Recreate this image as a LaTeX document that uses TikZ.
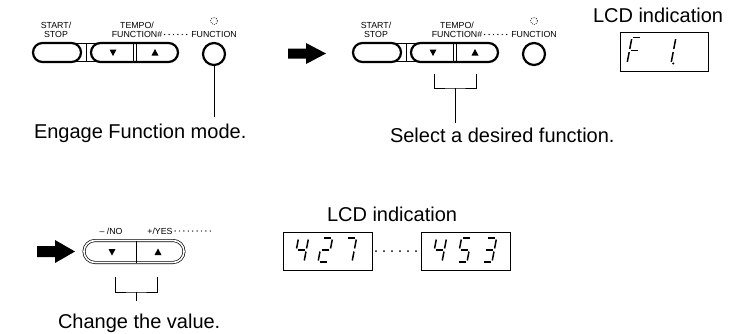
\documentclass[tikz,border=0pt]{standalone}
\usepackage{fontspec}
\setmainfont{Liberation Sans}
\usetikzlibrary{calc}
\newcommand{\SA}{\draw[segline] (1.5,-24)--(8.5,-24);}
\newcommand{\SB}{\draw[segline] (10,-22.5)--(10,-13.5);}
\newcommand{\SC}{\draw[segline] (10,-10.5)--(10,-1.5);}
\newcommand{\SD}{\draw[segline] (1.5,0)--(8.5,0);}
\newcommand{\SE}{\draw[segline] (0,-10.5)--(0,-1.5);}
\newcommand{\SF}{\draw[segline] (0,-22.5)--(0,-13.5);}
\newcommand{\SG}{\draw[segline] (1.5,-12)--(8.5,-12);}
\newcommand{\SP}{\fill (12.3,0) circle (1.1);}
\newcommand{\lcddig}[4]{\begin{scope}[shift={(#1,#2)},xslant=0.19,yscale=#3/24]#4\end{scope}}
\begin{document}
\begin{tikzpicture}[x=1pt,y=-1pt,
  small/.style={font=\fontsize{8.8}{9}\selectfont, inner sep=0, outer sep=0},
  big/.style={font=\fontsize{20}{22}\selectfont, inner sep=0, outer sep=0},
  btn/.style={draw, fill=white, line width=2.2pt, rectangle, rounded corners=9.5pt, minimum height=19pt, inner sep=0, outer sep=0},
  btnd/.style={draw, fill=white, line width=0.7pt, double=white, double distance=1.6pt, rectangle, rounded corners=11pt, minimum height=22pt, inner sep=0, outer sep=0},
  fnbtn/.style={draw, fill=white, circle, line width=2.2pt, minimum size=22pt, inner sep=0, outer sep=0},
  led/.style={draw, circle, line width=0.6pt, dash pattern=on 0.8pt off 1.2pt, minimum size=7pt, inner sep=0, outer sep=0},
  thinln/.style={line width=0.6pt},
  dotline/.style={line width=1.4pt, line cap=round, dash pattern=on 0pt off 4.4pt, shorten <=2.5pt, shorten >=1.5pt},
  bigdots/.style={line width=2pt, line cap=round, dash pattern=on 0pt off 8pt, shorten <=4pt, shorten >=3pt},
  lcdbox/.style={draw, line width=0.7pt, rectangle, inner sep=0, outer sep=0},
  segline/.style={line width=1.5pt, line cap=butt},
  bigarrow/.style={fill=black},
  tri/.style={fill=black}]
\useasboundingbox (0,0) rectangle (733,333);

% ---------- group 1 ----------
\draw[thinln] (70,43.5) -- (102,43.5);
\draw[thinln] (70,61.5) -- (102,61.5);
\draw[thinln] (86.5,43.5) -- (86.5,61.5);
\node[btn, minimum width=48pt] (ss1) at (57,52.5) {};
\node[btn, minimum width=87pt] (tp1) at (134.5,52.5) {};
\draw[thinln] ([xshift=-1.5pt]tp1.north) -- ([xshift=-1.5pt]tp1.south);
\draw[thinln] ([xshift=1.5pt]tp1.north) -- ([xshift=1.5pt]tp1.south);
\coordinate (dn1) at (113,52.5);
\coordinate (up1) at (155,52.5);
\fill[tri,shift={(dn1)}] (-3.5,-3) -- (3.5,-3) -- (0,3.5) -- cycle;
\fill[tri,shift={(up1)}] (-3.5,3) -- (3.5,3) -- (0,-3.5) -- cycle;
\node[fnbtn] (fn1) at (214,54) {};
\node[led] (led1) at (214,21) {};
\node[small] (ssa1) at (56,25) {START/};
\node[small] (ssb1) at (56,34.5) {STOP};
\node[small] (tpa1) at (137,25) {TEMPO/};
\node[small] (tpb1) at (137,34.5) {FUNCTION\#};
\node[small] (fnl1) at (214,34.5) {FUNCTION};
\draw[dotline] (tpb1.east) -- (fnl1.west);
\coordinate (l1end) at (214,117);
\draw[thinln] (fn1.south) -- (l1end);
\node[big, anchor=base west] (eng) at (34,138.5) {Engage Function mode.};

% arrow 1
\fill[bigarrow] (288,48.5) -- (306,48.5) -- (306,43) -- (326,53.5) -- (306,64) -- (306,58.5) -- (288,58.5) -- cycle;

% ---------- group 2 ----------
\draw[thinln] (390,43.5) -- (422,43.5);
\draw[thinln] (390,61.5) -- (422,61.5);
\draw[thinln] (406.5,43.5) -- (406.5,61.5);
\node[btn, minimum width=48pt] (ss2) at (377,52.5) {};
\node[btn, minimum width=87pt] (tp2) at (454.5,52.5) {};
\draw[thinln] ([xshift=-1.5pt]tp2.north) -- ([xshift=-1.5pt]tp2.south);
\draw[thinln] ([xshift=1.5pt]tp2.north) -- ([xshift=1.5pt]tp2.south);
\coordinate (dn2) at (433,52.5);
\coordinate (up2) at (475,52.5);
\fill[tri,shift={(dn2)}] (-3.5,-3) -- (3.5,-3) -- (0,3.5) -- cycle;
\fill[tri,shift={(up2)}] (-3.5,3) -- (3.5,3) -- (0,-3.5) -- cycle;
\node[fnbtn] (fn2) at (534,54) {};
\node[led] (led2) at (534,21) {};
\node[small] (ssa2) at (376,25) {START/};
\node[small] (ssb2) at (376,34.5) {STOP};
\node[small] (tpa2) at (457,25) {TEMPO/};
\node[small] (tpb2) at (457,34.5) {FUNCTION\#};
\node[small] (fnl2) at (534,34.5) {FUNCTION};
\draw[dotline] (tpb2.east) -- (fnl2.west);
\coordinate (b2l) at (434,74);
\coordinate (b2r) at (476,74);
\coordinate (b2m) at (455,88);
\coordinate (b2e) at (455,123);
\draw[thinln] (b2l) |- (b2m) -| (b2r);
\draw[thinln] (b2m) -- (b2e);
\node[big, anchor=base west] (sel) at (390,142) {Select a desired function.};

% LCD top
\node[big, anchor=base west] (lcd1) at (593,22) {LCD indication};
\node[lcdbox, minimum width=88pt, minimum height=39pt] (box1) at (664,52) {};
\lcddig{627}{63.5}{26}{\SA\SF\SG\SE}
\lcddig{661}{63.5}{26}{\SB\SC\SP}

% ---------- group 3 ----------
\fill[bigarrow] (37,246) -- (55,246) -- (55,240) -- (75,251.5) -- (55,263) -- (55,257) -- (37,257) -- cycle;
\node[btnd, minimum width=100pt] (pm3) at (134,251.5) {};
\draw[line width=0.8pt] (136,240.5) -- (136,262.5);
\coordinate (dn3) at (112,252);
\coordinate (up3) at (158,252);
\fill[tri,shift={(dn3)}] (-3.5,-3) -- (3.5,-3) -- (0,3.5) -- cycle;
\fill[tri,shift={(up3)}] (-3.5,3) -- (3.5,3) -- (0,-3.5) -- cycle;
\node[small] (no3) at (111,231) {-- /NO};
\node[small] (yes3) at (160,231) {+/YES};
\coordinate (dots3e) at (214,231);
\draw[dotline] (yes3.east) -- (dots3e);
\coordinate (b3l) at (115,277);
\coordinate (b3r) at (157,277);
\coordinate (b3m) at (136,292);
\coordinate (b3e) at (136,301);
\draw[thinln] (b3l) |- (b3m) -| (b3r);
\draw[thinln] (b3m) -- (b3e);
\node[big, anchor=base west] (chg) at (58,328) {Change the value.};

% LCD bottom
\node[big, anchor=base west] (lcd2) at (327,221) {LCD indication};
\node[lcdbox, minimum width=89pt, minimum height=38pt] (box2) at (327.5,251) {};
\node[lcdbox, minimum width=89pt, minimum height=38pt] (box3) at (465.5,251) {};
\draw[bigdots] (box2.east) -- (box3.west);
\lcddig{294}{262}{24}{\SF\SG\SB\SC}
\lcddig{318}{262}{24}{\SA\SB\SG\SE\SD}
\lcddig{342}{262}{24}{\SA\SB\SC}
\lcddig{432}{262}{24}{\SF\SG\SB\SC}
\lcddig{457}{262}{24}{\SA\SF\SG\SC\SD}
\lcddig{482}{262}{24}{\SA\SB\SG\SC\SD}
\end{tikzpicture}
\end{document}
